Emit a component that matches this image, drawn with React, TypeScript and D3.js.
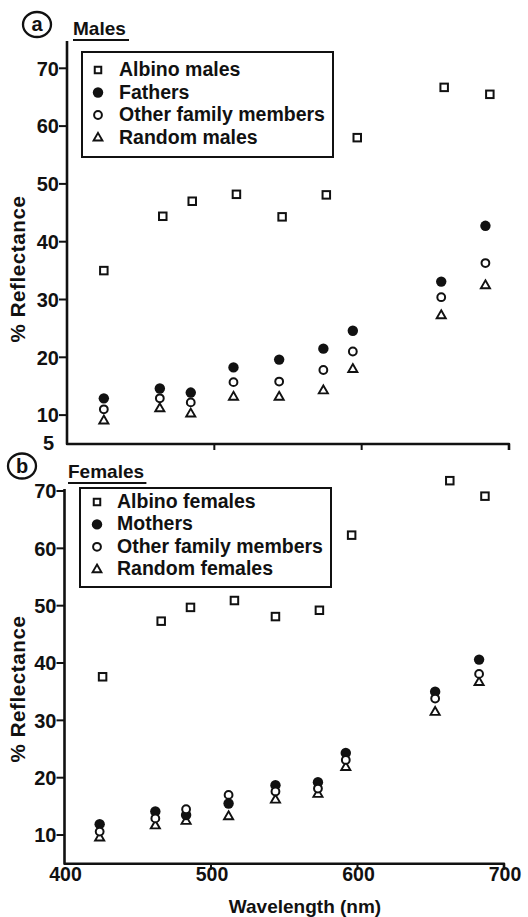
import React from "react";
import * as d3 from "d3";

// ---------- Data ----------
const maleAlbinoWl = [425, 465, 485, 515, 546, 576, 597, 656, 687];
const albinoMales = [35.0, 44.4, 47.0, 48.2, 44.3, 48.1, 58.0, 66.7, 65.5];
const maleFamilyWl = [425, 463, 484, 513, 544, 574, 594, 654, 684];
const fathers = [12.9, 14.6, 13.9, 18.25, 19.6, 21.5, 24.6, 33.1, 42.75];
const otherMales = [11.0, 12.9, 12.2, 15.7, 15.8, 17.8, 21.0, 30.4, 36.3];
const randomMales = [9.1, 11.2, 10.3, 13.2, 13.2, 14.3, 18.0, 27.3, 32.5];

const femaleAlbinoWl = [426, 466, 486, 516, 544, 574, 596, 663, 687];
const albinoFemales = [37.6, 47.3, 49.7, 50.9, 48.1, 49.2, 62.3, 71.8, 69.1];
const femaleFamilyWl = [424, 462, 483, 512, 544, 573, 592, 653, 683];
const mothers = [11.9, 14.1, 13.5, 15.5, 18.7, 19.2, 24.3, 35.0, 40.6];
const otherFemales = [10.6, 12.9, 14.5, 17.0, 17.6, 18.1, 23.1, 33.8, 38.1];
const randomFemales = [9.6, 11.7, 12.5, 13.3, 16.2, 17.2, 21.9, 31.5, 36.7];

const yTicks = [10, 20, 30, 40, 50, 60, 70];
const xTicks = [400, 500, 600, 700];
const maleLegend = ["Albino males", "Fathers", "Other family members", "Random males"];
const femaleLegend = ["Albino females", "Mothers", "Other family members", "Random females"];

const FONT = "'Liberation Sans', Arial, sans-serif";

type Kind = "square" | "filled" | "open" | "triangle";
const kinds: Kind[] = ["square", "filled", "open", "triangle"];

function Marker({ kind, x, y, legend }: { kind: Kind; x: number; y: number; legend?: boolean }) {
  if (kind === "square") {
    const s = legend ? 6.5 : 7.5;
    return <rect x={x - s / 2} y={y - s / 2} width={s} height={s} fill="white" stroke="#111" strokeWidth={2} />;
  }
  if (kind === "filled") return <circle cx={x} cy={y} r={5.2} fill="#111" />;
  if (kind === "open") return <circle cx={x} cy={y} r={3.9} fill="white" stroke="#111" strokeWidth={2} />;
  const p = d3.symbol().type(d3.symbolTriangle).size(legend ? 34 : 36)();
  return <path d={p || ""} transform={`translate(${x},${y + 0.5})`} fill="white" stroke="#111" strokeWidth={1.9} strokeLinejoin="miter" />;
}

type PanelProps = {
  xRange: [number, number];
  yDomain: [number, number];
  yRange: [number, number];
  axisTop: number;
  series: { wl: number[]; vals: number[]; kind: Kind }[];
  legendLabels: string[];
  legendBox: { x: number; y: number; w: number; h: number };
  legendBase: number;
  legendStep: number;
  legendSymX: number;
  legendTextX: number;
  showXLabels: boolean;
  showFive: boolean;
  title: string;
  titleX: number;
  titleBase: number;
  letter: string;
  letterCx: number;
  letterCy: number;
  ylabelY: number;
};

function Panel(p: PanelProps) {
  const x = d3.scaleLinear().domain([400, 700]).range(p.xRange);
  const y = d3.scaleLinear().domain(p.yDomain).range(p.yRange);
  const x0 = p.xRange[0];
  const yb = p.yRange[0];
  const order: Kind[] = ["triangle", "filled", "open", "square"];
  const sorted = [...p.series].sort((a, b) => order.indexOf(a.kind) - order.indexOf(b.kind));
  const titleW = p.title.length * 11.2;
  return (
    <g>
      {/* axes */}
      <path
        d={`M${x0},${p.axisTop} L${x0},${yb} L${p.xRange[1]},${yb} L${p.xRange[1]},${yb + 6}`}
        fill="none"
        stroke="#111"
        strokeWidth={2.6}
        strokeLinejoin="round"
      />
      {xTicks.slice(1, 3).map((t) => (
        <line key={t} x1={x(t)} x2={x(t)} y1={yb} y2={yb + 6} stroke="#111" strokeWidth={2} />
      ))}
      {p.showXLabels &&
        xTicks.map((t) => (
          <text key={t} x={x(t) + 1} y={yb + 17} textAnchor="middle" fontFamily={FONT} fontWeight="bold" fontSize={19.5} fill="#111">
            {t}
          </text>
        ))}
      {yTicks.map((t) => (
        <g key={t}>
          <line x1={x0 - 8} x2={x0} y1={y(t)} y2={y(t)} stroke="#111" strokeWidth={2} />
          <text x={x0 - 8} y={y(t)} dy="0.36em" textAnchor="end" fontFamily={FONT} fontWeight="bold" fontSize={20} fill="#111">
            {t}
          </text>
        </g>
      ))}
      {p.showFive && (
        <text x={x0 - 13} y={yb + 6} textAnchor="end" fontFamily={FONT} fontWeight="bold" fontSize={20} fill="#111">
          5
        </text>
      )}
      {/* y label */}
      <text
        transform={`translate(25,${p.ylabelY}) rotate(-90)`}
        textAnchor="middle"
        fontFamily={FONT}
        fontWeight="bold"
        fontSize={20.5}
        letterSpacing={0.6}
        fill="#111"
      >
        % Reflectance
      </text>
      {/* panel letter */}
      <ellipse cx={p.letterCx} cy={p.letterCy} rx={14} ry={12.5} fill="none" stroke="#111" strokeWidth={2.3} />
      <text x={p.letterCx} y={p.letterCy} dy="0.34em" textAnchor="middle" fontFamily={FONT} fontWeight="bold" fontSize={20} fill="#111">
        {p.letter}
      </text>
      {/* title */}
      <text x={p.titleX} y={p.titleBase} fontFamily={FONT} fontWeight="bold" fontSize={19} fill="#111">
        {p.title}
      </text>
      <line x1={p.titleX} x2={p.titleX + titleW} y1={p.titleBase + 5} y2={p.titleBase + 5} stroke="#111" strokeWidth={2} />
      {/* legend */}
      <rect x={p.legendBox.x} y={p.legendBox.y} width={p.legendBox.w} height={p.legendBox.h} fill="white" stroke="#111" strokeWidth={2} />
      {p.legendLabels.map((lab, i) => {
        const base = p.legendBase + i * p.legendStep;
        return (
          <g key={lab}>
            <Marker kind={kinds[i]} x={p.legendSymX} y={base - 6} legend />
            <text x={p.legendTextX} y={base} fontFamily={FONT} fontWeight="bold" fontSize={19.5} fill="#111">
              {lab}
            </text>
          </g>
        );
      })}
      {/* data */}
      {sorted.map((s, si) =>
        s.vals.map((v, i) => <Marker key={`${si}-${i}`} kind={s.kind} x={x(s.wl[i])} y={y(v)} />)
      )}
    </g>
  );
}

export default function App() {
  return (
    <svg width={528} height={917} style={{ position: "absolute", left: 0, top: 0, background: "white" }}>
      <rect width={528} height={917} fill="white" />
      <Panel
        xRange={[67, 509]}
        yDomain={[5, 75]}
        yRange={[444, 39.4]}
        axisTop={41}
        series={[
          { wl: maleAlbinoWl, vals: albinoMales, kind: "square" },
          { wl: maleFamilyWl, vals: fathers, kind: "filled" },
          { wl: maleFamilyWl, vals: otherMales, kind: "open" },
          { wl: maleFamilyWl, vals: randomMales, kind: "triangle" },
        ]}
        legendLabels={maleLegend}
        legendBox={{ x: 82, y: 52, w: 251, h: 105 }}
        legendBase={76}
        legendStep={22.5}
        legendSymX={98}
        legendTextX={119}
        showXLabels={false}
        showFive={true}
        title="Males"
        titleX={73}
        titleBase={35}
        letter="a"
        letterCx={37}
        letterCy={24.5}
        ylabelY={269}
      />
      <Panel
        xRange={[64.5, 504]}
        yDomain={[5, 70]}
        yRange={[863.7, 491]}
        axisTop={489}
        series={[
          { wl: femaleAlbinoWl, vals: albinoFemales, kind: "square" },
          { wl: femaleFamilyWl, vals: mothers, kind: "filled" },
          { wl: femaleFamilyWl, vals: otherFemales, kind: "open" },
          { wl: femaleFamilyWl, vals: randomFemales, kind: "triangle" },
        ]}
        legendLabels={femaleLegend}
        legendBox={{ x: 80, y: 488, w: 251, h: 99 }}
        legendBase={508}
        legendStep={22.4}
        legendSymX={97}
        legendTextX={117}
        showXLabels={true}
        showFive={false}
        title="Females"
        titleX={68}
        titleBase={478}
        letter="b"
        letterCx={22}
        letterCy={466}
        ylabelY={689}
      />
      <text x={305} y={913} textAnchor="middle" fontFamily={FONT} fontWeight="bold" fontSize={19} fill="#111">
        Wavelength (nm)
      </text>
    </svg>
  );
}
